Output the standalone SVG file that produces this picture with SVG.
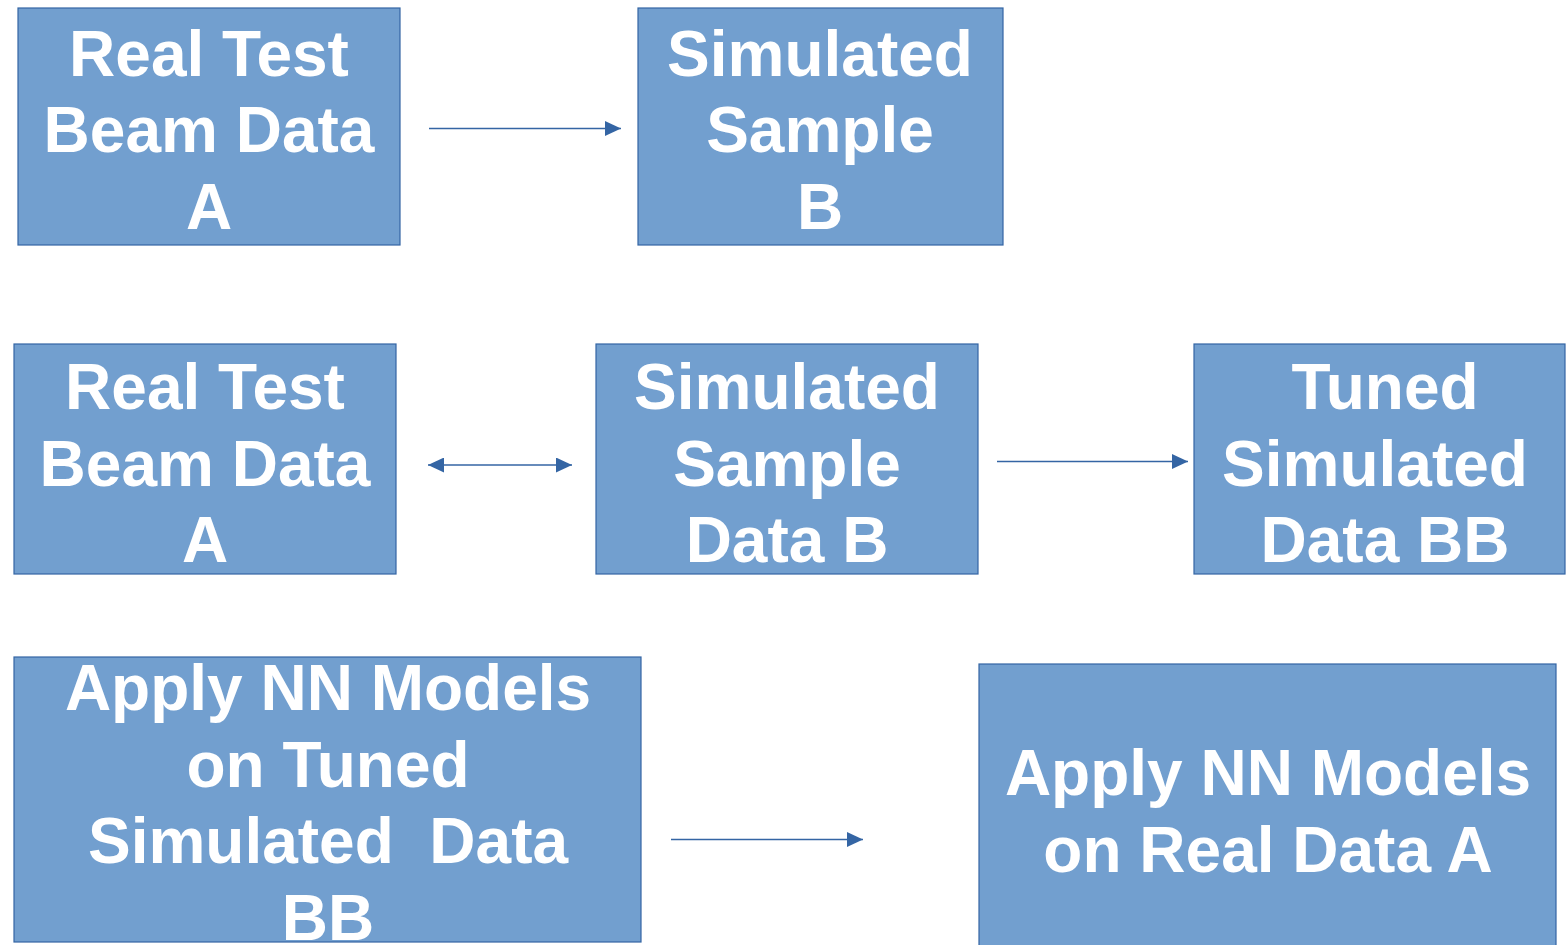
<svg xmlns="http://www.w3.org/2000/svg" width="1566" height="945" viewBox="0 0 1566 945">
<style>
.box{fill:#729fcf;stroke:#3465a4;stroke-width:1.2}
.t{font-family:"Liberation Sans",Arial,sans-serif;font-weight:bold;font-size:64px;fill:#fff;text-anchor:middle;white-space:pre}
.c{stroke:#3465a4;stroke-width:1.4;fill:none}
</style>
<defs>
<marker id="ah" viewBox="0 0 16 15" refX="16" refY="7.5" markerWidth="16" markerHeight="15" markerUnits="userSpaceOnUse" orient="auto-start-reverse">
<path d="M0,0 L16,7.5 L0,15 Z" fill="#3465a4"/>
</marker>
</defs>
<rect width="1566" height="945" fill="#fff"/>
<g id="n1"><rect class="box" x="18" y="8" width="382" height="237"/>
<text class="t"><tspan x="209" y="76">Real Test</tspan><tspan x="209" y="152">Beam Data</tspan><tspan x="209" y="229">A</tspan></text></g>
<g id="n2"><rect class="box" x="638" y="8" width="365" height="237"/>
<text class="t"><tspan x="820" y="76">Simulated</tspan><tspan x="820" y="152">Sample</tspan><tspan x="820" y="229">B</tspan></text></g>
<g id="n3"><rect class="box" x="14" y="344" width="382" height="230"/>
<text class="t"><tspan x="205" y="409">Real Test</tspan><tspan x="205" y="486">Beam Data</tspan><tspan x="205" y="562">A</tspan></text></g>
<g id="n4"><rect class="box" x="596" y="344" width="382" height="230"/>
<text class="t"><tspan x="787" y="409">Simulated</tspan><tspan x="787" y="486">Sample</tspan><tspan x="787" y="562">Data B</tspan></text></g>
<g id="n5"><rect class="box" x="1194" y="344" width="371" height="230"/>
<text class="t"><tspan x="1385" y="409">Tuned</tspan><tspan x="1375" y="486">Simulated</tspan><tspan x="1385" y="562">Data BB</tspan></text></g>
<g id="n6"><rect class="box" x="14" y="657" width="627" height="285"/>
<text class="t" xml:space="preserve"><tspan x="328" y="710">Apply NN Models</tspan><tspan x="328" y="787">on Tuned</tspan><tspan x="328" y="863">Simulated  Data</tspan><tspan x="328" y="940">BB</tspan></text></g>
<g id="n7"><rect class="box" x="979" y="664" width="577" height="285"/>
<text class="t"><tspan x="1268" y="795">Apply NN Models</tspan><tspan x="1268" y="872">on Real Data A</tspan></text></g>
<g id="connectors">
<line class="c" x1="429" y1="128.5" x2="621" y2="128.5" marker-end="url(#ah)"/>
<line class="c" x1="428" y1="465" x2="572" y2="465" marker-start="url(#ah)" marker-end="url(#ah)"/>
<line class="c" x1="997" y1="461.5" x2="1188" y2="461.5" marker-end="url(#ah)"/>
<line class="c" x1="671" y1="839.5" x2="863" y2="839.5" marker-end="url(#ah)"/>
</g>
</svg>
